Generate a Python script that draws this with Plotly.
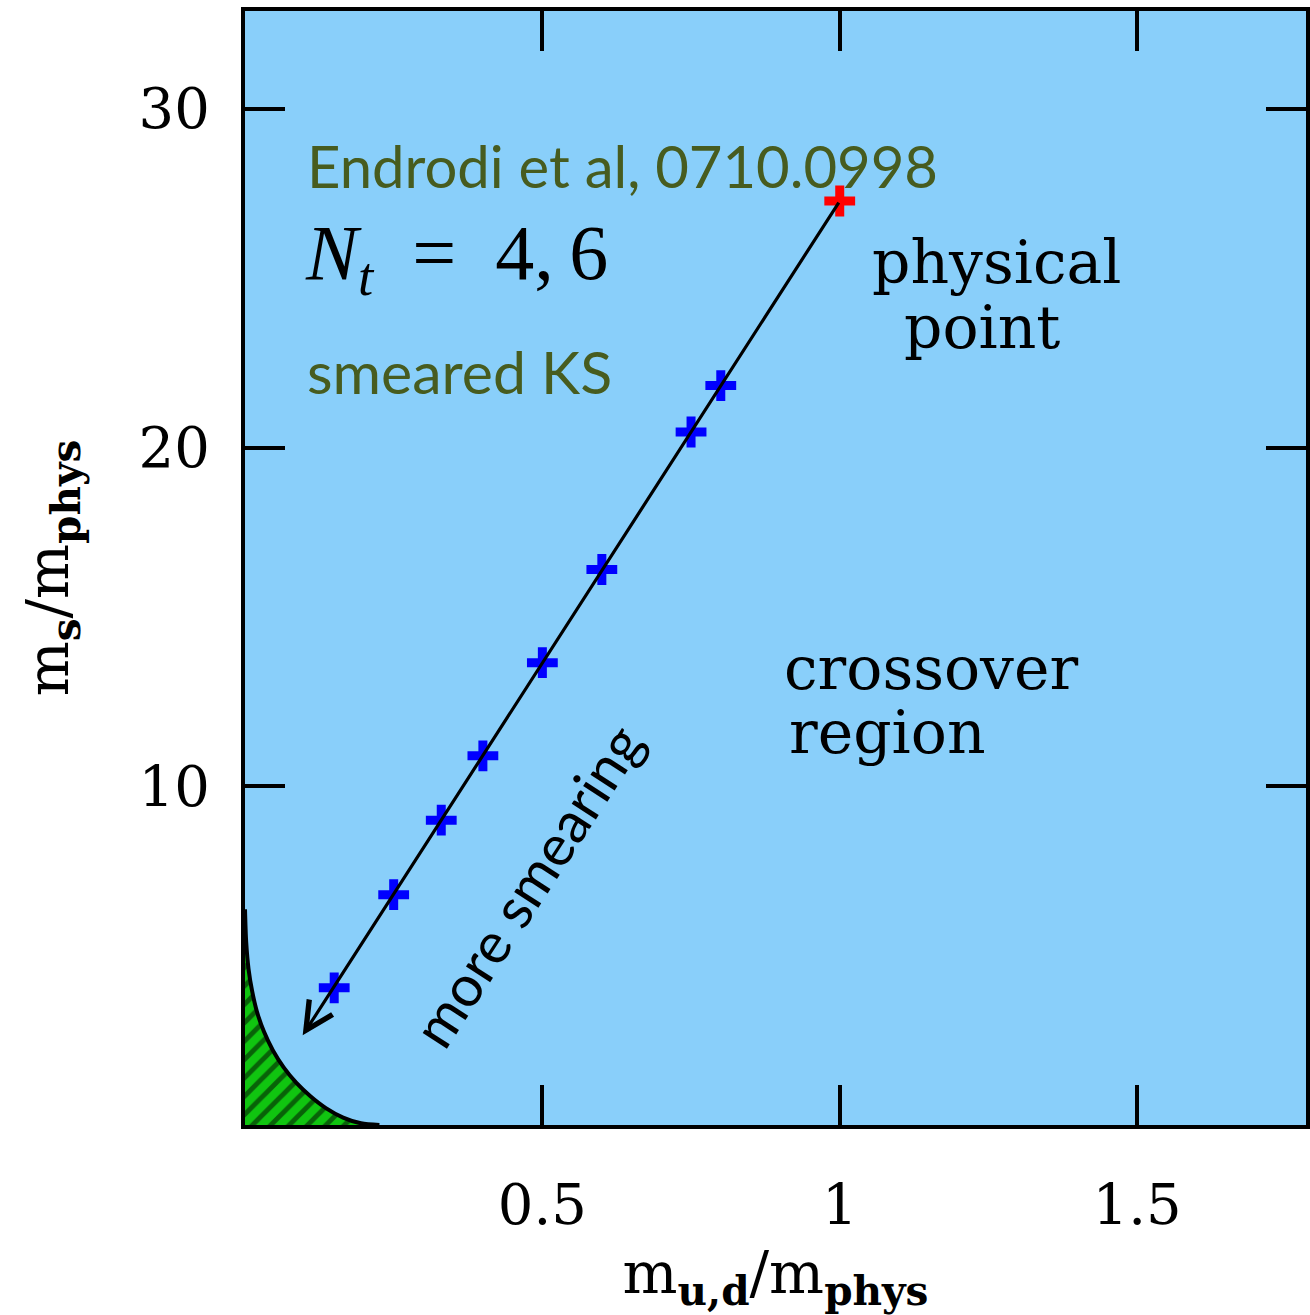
import plotly.graph_objects as go

# ---- data ----
mud_blue = [0.15, 0.25, 0.33, 0.40, 0.50, 0.60, 0.75, 0.80]
ms_blue = [4.05, 6.80, 9.00, 10.90, 13.65, 16.40, 20.46, 21.83]
mud_phys = [1.0]
ms_phys = [27.28]

# first-order region boundary (hatched green)
curve_x = [0.0, 0.002, 0.006, 0.012, 0.020, 0.032, 0.047, 0.065, 0.086, 0.110, 0.136, 0.165, 0.195, 0.226]
curve_y = [6.37, 5.40, 4.60, 3.95, 3.35, 2.75, 2.20, 1.70, 1.25, 0.85, 0.50, 0.22, 0.05, 0.0]

arrow_tip_x = 0.097

x_ticks = [0.5, 1, 1.5]
x_ticklabels = ["0.5", "1", "1.5"]
y_ticks = [10, 20, 30]
y_ticklabels = ["10", "20", "30"]

BG = "#89cffa"
OLIVE = "#475c1f"
SERIF = "DejaVu Serif"
SANS = "Lato"

fig = go.Figure()

fig.add_trace(go.Scatter(
    x=curve_x, y=curve_y, mode="lines", fill="tozeroy",
    line=dict(color="black", width=4, shape="spline", smoothing=0.8),
    fillpattern=dict(shape="/", bgcolor="#10c510", fgcolor="black", size=13, solidity=0.38),
    hoverinfo="skip", showlegend=False))

fig.add_trace(go.Scatter(
    x=mud_blue, y=ms_blue, mode="markers",
    marker=dict(symbol="cross-thin", size=22, color="#0000ff",
                line=dict(width=9, color="#0000ff")),
    showlegend=False))
fig.add_trace(go.Scatter(
    x=mud_phys, y=ms_phys, mode="markers",
    marker=dict(symbol="cross-thin", size=22, color="#ff0000",
                line=dict(width=9, color="#ff0000")),
    showlegend=False))

arrow_tip_y = ms_phys[0] * arrow_tip_x / mud_phys[0]
annotations = [
    dict(x=arrow_tip_x, y=arrow_tip_y, ax=mud_phys[0], ay=ms_phys[0],
         xref="x", yref="y", axref="x", ayref="y", text="", showarrow=True,
         arrowhead=5, arrowsize=1.7, arrowwidth=3.2, arrowcolor="black",
         standoff=0, startstandoff=0),
]

def txt(s, x, y, font, size, color="black", angle=0, xanchor="left"):
    annotations.append(dict(x=x, y=y, xref="x", yref="y", text=s, showarrow=False,
                            xanchor=xanchor, yanchor="middle", borderpad=0, textangle=angle,
                            font=dict(family=font, size=size, color=color)))

txt("Endrodi et al, 0710.0998", 0.102, 28.34, SANS, 58, OLIVE)
txt("<i>N</i><sub><i>t</i></sub>\u2002=\u20024,\u20096", 0.100, 25.6, "Liberation Serif", 78)
txt("smeared KS", 0.102, 22.26, SANS, 59, OLIVE)
txt("physical", 1.052, 25.48, SERIF, 60)
txt("point", 1.106, 23.56, SERIF, 60)
txt("crossover", 0.905, 13.49, SERIF, 60)
txt("region", 0.913, 11.60, SERIF, 60)
txt("more smearing", 0.474, 7.09, SANS, 57, angle=-57, xanchor="center")

axis_common = dict(showline=True, linewidth=4, linecolor="black", mirror="ticks",
                   ticks="inside", ticklen=40, tickwidth=4, tickcolor="black",
                   showgrid=False, zeroline=False,
                   tickfont=dict(family=SERIF, size=56, color="black"))

fig.update_layout(
    width=1310, height=1315,
    margin=dict(l=245, r=0, t=11, b=190),
    paper_bgcolor="white", plot_bgcolor=BG,
    annotations=annotations,
    xaxis=dict(range=[0, 1.784], tickvals=x_ticks, ticktext=x_ticklabels,
               ticklabelstandoff=28,
               title=dict(text="m<sub><b>u,d</b></sub>/m<sub><b>phys</b></sub>",
                          font=dict(family=SERIF, size=58, color="black"), standoff=30),
               **axis_common),
    yaxis=dict(range=[0, 32.89], tickvals=y_ticks, ticktext=y_ticklabels,
               ticklabelstandoff=20,
               title=dict(text="m<sub><b>s</b></sub>/m<sub><b>phys</b></sub>",
                          font=dict(family=SERIF, size=58, color="black"), standoff=52),
               **axis_common),
)

fig.write_html("out.html")
